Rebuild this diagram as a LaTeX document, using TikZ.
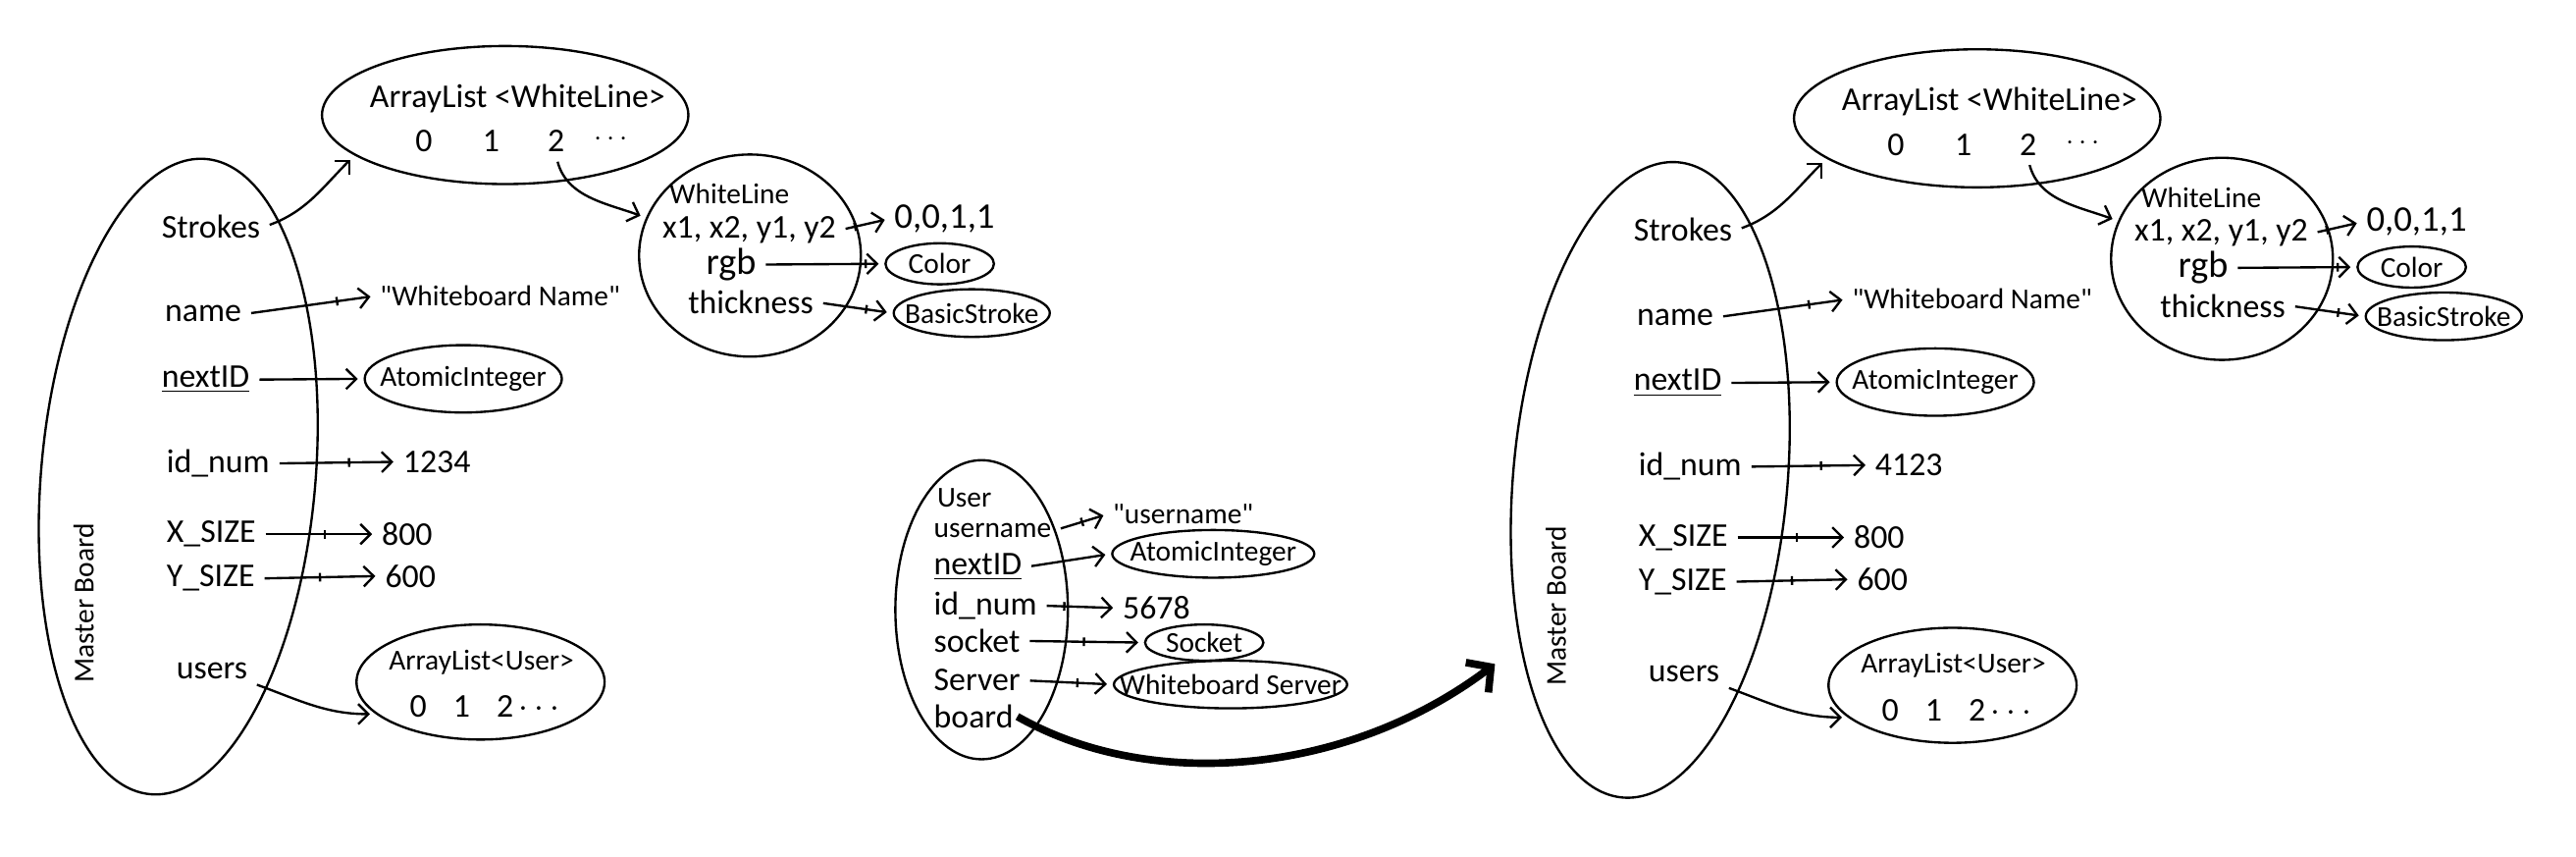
\documentclass[tikz,border=0pt]{standalone}
\usepackage{fontspec}
\setmainfont{Carlito}
\usetikzlibrary{shapes.geometric,arrows.meta,decorations.markings}
\newcommand{\ctext}[1]{\makebox[0pt]{#1}}
\tikzset{
  obj/.style 2 args={draw,ellipse,inner sep=0pt,minimum width=#1*0.02cm,minimum height=#2*0.02cm},
  ref/.style={-{Straight Barb[length=3.5pt,width=7pt]},shorten <=2pt,shorten >=2pt},
  fixref/.style={ref,postaction={decorate},decoration={markings,mark=at position #1 with {\draw[-] (0,-3.5pt) -- (0,3.5pt);}}},
  fixref/.default=0.6,
  fld/.style={inner sep=1pt,font=\fontsize{11.5}{13}\selectfont},
  val/.style={inner sep=1pt,font=\fontsize{10}{12}\selectfont},
  thickref/.style={line width=2.6pt,-{Straight Barb[length=6pt,width=13pt]}}
}
\begin{document}
\begin{tikzpicture}[x=0.02cm,y=-0.02cm,line width=0.8pt]
\useasboundingbox (0,0) rectangle (1568,521);
\foreach \p/\dx/\dy/\idv in {L/0/0/1234,R/896/2/4123}{
\begin{scope}[shift={(\dx,\dy)}]
\node[obj={167}{388},rotate=-5] (mb\p) at (108.5,290) {};
\node[val,rotate=90] (mbt\p) at (51,367) {Master Board};
\node[fld,anchor=west] (strokes\p) at (96,138) {Strokes};
\node[fld,anchor=west] (name\p) at (98,191) {name};
\node[fld,anchor=west] (nextid\p) at (96,231) {\underline{nextID}};
\node[fld,anchor=west] (idnum\p) at (99,282) {id\_num};
\node[fld,anchor=west] (xsize\p) at (99,325) {X\_SIZE};
\node[fld,anchor=west] (ysize\p) at (99,352) {Y\_SIZE};
\node[fld,anchor=west] (users\p) at (105,408) {users};
\node[obj={223}{84}] (alw\p) at (307.5,70) {};
\node[fld] (alwt\p) at (315,60) {ArrayList <WhiteLine>};
\node[fld] (alw0\p) at (258,86) {0};
\node[fld] (alw1\p) at (299,86) {1};
\node[fld] (alw2\p) at (338.5,86) {2};
\node[inner sep=0pt] (alwd\p) at (372,85) {$\cdots$};
\node[val,anchor=west] (wbname\p) at (229,180) {\textquotedbl Whiteboard Name\textquotedbl};
\node[val,obj={120}{41}] (ai\p) at (282,230.5) {\ctext{AtomicInteger}};
\node[fld,anchor=west] (idv\p) at (243,281) {\idv};
\node[fld,anchor=west] (xv\p) at (230,325) {800};
\node[fld,anchor=west] (yv\p) at (232,350.5) {600};
\node[obj={151}{70}] (alu\p) at (292.5,415) {};
\node[val] (alut\p) at (293,403) {ArrayList<User>};
\node[fld] (alui\p) at (295,430) {0\hspace{0.8em}1\hspace{0.8em}2\,$\cdots$};
\node[obj={135}{123}] (wl\p) at (456.5,155.5) {};
\node[val] (wlt\p) at (444,118) {WhiteLine};
\node[fld] (wlxy\p) at (456,140) {x1, x2, y1, y2};
\node[inner sep=1pt,font=\fontsize{13}{14}\selectfont] (wlrgb\p) at (445,161) {rgb};
\node[fld] (wlth\p) at (457,184) {thickness};
\node[inner sep=1pt,font=\fontsize{12.5}{14}\selectfont,anchor=west] (coords\p) at (542,133) {0,0,1,1};
\node[val,obj={66}{25}] (col\p) at (572,160.5) {\ctext{Color}};
\node[val,obj={95}{29}] (bs\p) at (591.5,190.5) {\ctext{BasicStroke}};
\draw[ref] (strokes\p.east) to[out=20,in=225] (alw\p.195);
\draw[fixref=0.7] (name\p.east) -- (wbname\p.west);
\draw[ref] (nextid\p.east) -- (ai\p.west);
\draw[fixref=0.6] (idnum\p.east) -- (idv\p.west);
\draw[fixref=0.55] (xsize\p.east) -- (xv\p.west);
\draw[fixref=0.5] (ysize\p.east) -- (yv\p.west);
\draw[ref] (users\p.south east) to[out=-20,in=180] (alu\p.197);
\draw[ref] (alw2\p.south) to[out=-75,in=160] (wl\p.160);
\draw[fixref=0.3] (wlxy\p.east) -- (coords\p.west);
\draw[fixref=0.85] (wlrgb\p.east) -- (col\p.west);
\draw[fixref=0.65] (wlth\p.east) -- (bs\p.west);
\end{scope}
}
\node[obj={105}{182}] (usr) at (597.5,371) {};
\node[val,anchor=west] (usrt) at (568,303) {User};
\node[val,anchor=west] (uname) at (566,322.6) {username};
\node[fld,anchor=west] (unext) at (566,345) {\underline{nextID}};
\node[fld,anchor=west] (uidnum) at (566,368.5) {id\_num};
\node[fld,anchor=west] (usock) at (566,390) {socket};
\node[fld,anchor=west] (userv) at (566,414) {Server};
\node[fld,anchor=west] (uboard) at (566,436) {board};
\node[val,anchor=west] (unameq) at (675,312.6) {\textquotedbl username\textquotedbl};
\node[val,obj={123}{29}] (uai) at (738.5,337) {\ctext{AtomicInteger}};
\node[fld,anchor=west] (uidv) at (681,370) {5678};
\node[val,obj={72}{22}] (usockv) at (733,391) {\ctext{Socket}};
\node[val,obj={142}{29}] (uservv) at (749,416.5) {\ctext{Whiteboard Server}};
\coordinate (boardin) at (910,404);
\draw[fixref=0.5] (uname.east) -- (unameq.west);
\draw[ref] (unext.east) -- (uai.west);
\draw[fixref=0.3] (uidnum.east) -- (uidv.west);
\draw[fixref=0.5] (usock.east) -- (usockv.west);
\draw[fixref=0.6] (userv.east) -- (uservv.west);
\draw[thickref] (uboard.east) .. controls (700,482) and (820,472) .. (boardin);
\end{tikzpicture}
\end{document}
